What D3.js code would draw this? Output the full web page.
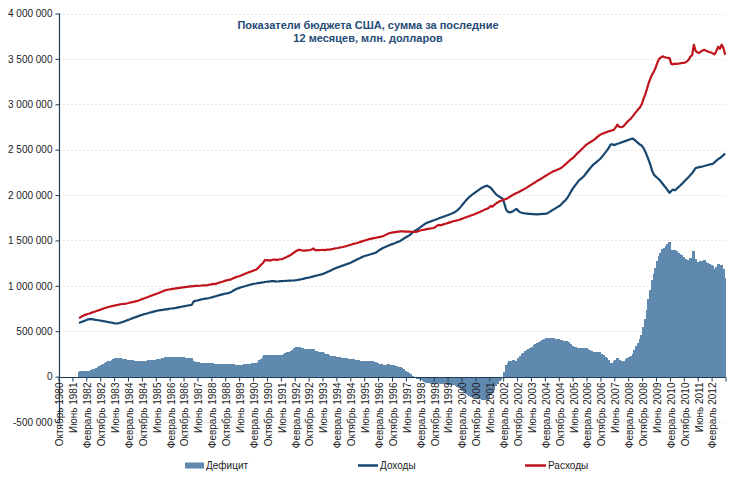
<!DOCTYPE html>
<html><head><meta charset="utf-8">
<script src="https://cdn.jsdelivr.net/npm/d3@7"></script>
<style>body{margin:0;background:#fff}svg{display:block;font-family:Arial,"Liberation Sans",sans-serif}</style>
</head><body><svg id="chart" width="740" height="486"></svg>
<script>
const titleLines = ["Показатели бюджета США, сумма за последние", "12 месяцев, млн. долларов"];
const seriesNames = ["Дефицит", "Доходы", "Расходы"];
const monthNames = ["Январь","Февраль","Март","Апрель","Май","Июнь","Июль","Август","Сентябрь","Октябрь","Ноябрь","Декабрь"];
const axisStart = {year: 1980, month: 10};   // first category on the axis
const axisMonthCount = 384;                  // Oct 1980 .. Sep 2012
const dataStartIndex = 11;                   // data begin in Sep 1981
const tickEvery = 8;
const tickLabels = ["Октябрь 1980","Июнь 1981","Февраль 1982","Октябрь 1982","Июнь 1983","Февраль 1984","Октябрь 1984","Июнь 1985","Февраль 1986","Октябрь 1986","Июнь 1987","Февраль 1988","Октябрь 1988","Июнь 1989","Февраль 1990","Октябрь 1990","Июнь 1991","Февраль 1992","Октябрь 1992","Июнь 1993","Февраль 1994","Октябрь 1994","Июнь 1995","Февраль 1996","Октябрь 1996","Июнь 1997","Февраль 1998","Октябрь 1998","Июнь 1999","Февраль 2000","Октябрь 2000","Июнь 2001","Февраль 2002","Октябрь 2002","Июнь 2003","Февраль 2004","Октябрь 2004","Июнь 2005","Февраль 2006","Октябрь 2006","Июнь 2007","Февраль 2008","Октябрь 2008","Июнь 2009","Февраль 2010","Октябрь 2010","Июнь 2011","Февраль 2012"];
const yTicks = [-500000, 0, 500000, 1000000, 1500000, 2000000, 2500000, 3000000, 3500000, 4000000];

// 12-month sums, million USD, monthly from Sep 1981 to Sep 2012
const deficit = [55000,
57000,62000,64000,63000,62000,61000,69000,79000,88000,98000,107000,117000,
127000,138000,147000,157000,167000,175000,184000,192000,200000,203000,203000,202000,
199000,194000,189000,186000,184000,181000,178000,175000,173000,171000,171000,172000,
173000,175000,177000,180000,181000,183000,185000,187000,189000,191000,197000,203000,
208000,212000,213000,213000,213000,214000,214000,214000,213000,212000,211000,211000,
209000,207000,206000,205000,203000,169000,165000,162000,158000,154000,152000,148000,
146000,146000,146000,145000,145000,137000,137000,137000,138000,139000,140000,142000,
144000,144000,142000,140000,137000,133000,132000,130000,131000,133000,135000,138000,
140000,141000,143000,146000,149000,152000,165000,182000,199000,213000,243000,235000,
236000,229000,234000,238000,238000,236000,241000,242000,243000,250000,257000,266000,
273000,284000,297000,310000,321000,328000,329000,319000,311000,305000,304000,302000,
300000,301000,308000,283000,280000,274000,271000,267000,259000,254000,246000,238000,
232000,227000,222000,218000,214000,211000,208000,204000,202000,200000,199000,198000,
195000,192000,187000,183000,180000,177000,173000,170000,171000,171000,172000,170000,
168000,166000,163000,154000,143000,136000,129000,131000,133000,134000,133000,129000,
125000,121000,116000,111000,105000,92000,79000,66000,54000,44000,26000,11000,
-5000,-19000,-25000,-29000,-40000,-49000,-60000,-68000,-71000,-75000,-79000,-83000,
-82000,-74000,-70000,-83000,-84000,-85000,-86000,-87000,-88000,-89000,-91000,-94000,
-102000,-112000,-125000,-140000,-156000,-173000,-189000,-202000,-212000,-221000,-228000,-235000,
-241000,-247000,-252000,-255000,-256000,-256000,-254000,-232000,-200000,-186000,-144000,-105000,
-77000,-53000,-32000,-13000,51000,123000,153000,172000,177000,182000,176000,176000,
207000,232000,247000,263000,277000,290000,304000,317000,330000,344000,358000,370000,
379000,390000,400000,411000,421000,425000,424000,423000,422000,418000,414000,410000,
407000,400000,395000,396000,390000,377000,360000,341000,330000,325000,320000,313000,
319000,320000,319000,313000,301000,288000,278000,269000,267000,267000,268000,267000,
254000,238000,220000,203000,182000,153000,152000,170000,187000,210000,181000,170000,
168000,177000,192000,207000,218000,232000,251000,295000,334000,373000,413000,455000,
542000,630000,735000,850000,955000,1065000,1135000,1200000,1272000,1328000,1365000,1403000,
1420000,1437000,1462000,1483000,1400000,1380000,1396000,1379000,1362000,1348000,1335000,1316000,
1300000,1290000,1290000,1305000,1300000,1386000,1293000,1267000,1258000,1269000,1277000,1280000,
1265000,1251000,1239000,1230000,1215000,1188000,1210000,1239000,1202000,1234000,1180000,1090000];

const revenue = [591000,
598000,606000,612000,620000,628000,634000,633000,630000,627000,624000,621000,618000,
615000,611000,608000,604000,600000,597000,593000,589000,585000,586000,590000,595000,
601000,608000,615000,622000,629000,637000,644000,651000,658000,665000,672000,679000,
685000,690000,695000,700000,706000,711000,716000,721000,726000,730000,733000,735000,
738000,741000,744000,747000,750000,752000,755000,758000,762000,766000,770000,773000,
777000,781000,785000,788000,792000,828000,834000,838000,843000,848000,852000,856000,
859000,862000,866000,871000,876000,882000,887000,893000,898000,903000,908000,913000,
916000,920000,926000,936000,948000,960000,968000,975000,981000,987000,993000,998000,
1004000,1010000,1015000,1019000,1023000,1026000,1030000,1033000,1036000,1039000,1042000,1045000,
1047000,1049000,1051000,1052000,1050000,1048000,1049000,1051000,1052000,1053000,1055000,1056000,
1057000,1058000,1059000,1060000,1062000,1065000,1069000,1073000,1077000,1082000,1086000,1090000,
1094000,1099000,1104000,1109000,1114000,1119000,1124000,1129000,1135000,1143000,1152000,1161000,
1170000,1179000,1188000,1196000,1203000,1210000,1217000,1224000,1231000,1238000,1245000,1252000,
1261000,1270000,1280000,1289000,1298000,1307000,1317000,1326000,1331000,1337000,1342000,1348000,
1354000,1360000,1367000,1380000,1395000,1406000,1417000,1425000,1433000,1441000,1449000,1457000,
1464000,1471000,1479000,1487000,1495000,1508000,1520000,1532000,1543000,1553000,1570000,1585000,
1600000,1613000,1625000,1637000,1652000,1666000,1680000,1692000,1699000,1706000,1713000,1720000,
1727000,1734000,1742000,1749000,1756000,1763000,1770000,1777000,1784000,1791000,1799000,1808000,
1820000,1835000,1853000,1875000,1898000,1922000,1945000,1965000,1982000,1998000,2012000,2027000,
2041000,2055000,2068000,2080000,2090000,2099000,2104000,2092000,2080000,2058000,2034000,2010000,
1995000,1983000,1970000,1958000,1900000,1835000,1815000,1808000,1815000,1822000,1838000,1847000,
1825000,1810000,1805000,1800000,1797000,1795000,1793000,1792000,1791000,1789000,1787000,1788000,
1789000,1790000,1792000,1793000,1795000,1803000,1815000,1827000,1839000,1850000,1862000,1874000,
1885000,1905000,1925000,1942000,1965000,1995000,2030000,2062000,2090000,2115000,2140000,2165000,
2178000,2196000,2216000,2240000,2265000,2290000,2312000,2333000,2350000,2366000,2381000,2397000,
2418000,2442000,2468000,2492000,2520000,2555000,2560000,2550000,2558000,2565000,2571000,2578000,
2584000,2591000,2598000,2605000,2612000,2618000,2621000,2605000,2588000,2572000,2555000,2545000,
2518000,2480000,2435000,2385000,2330000,2265000,2225000,2205000,2188000,2172000,2150000,2125000,
2100000,2078000,2050000,2025000,2045000,2060000,2052000,2066000,2085000,2102000,2120000,2140000,
2160000,2180000,2200000,2220000,2240000,2270000,2297000,2303000,2307000,2311000,2315000,2320000,
2325000,2331000,2336000,2340000,2345000,2362000,2380000,2395000,2408000,2422000,2440000,2456000];

const spending = [646000,
655000,668000,676000,683000,690000,695000,702000,709000,715000,722000,728000,735000,
742000,749000,755000,761000,767000,772000,777000,781000,785000,789000,793000,797000,
800000,802000,804000,808000,813000,818000,822000,826000,831000,836000,843000,851000,
858000,865000,872000,880000,887000,894000,901000,908000,915000,921000,930000,938000,
946000,953000,957000,960000,963000,966000,969000,972000,975000,978000,981000,984000,
986000,988000,991000,993000,995000,997000,999000,1000000,1001000,1002000,1004000,1004000,
1005000,1008000,1012000,1016000,1021000,1019000,1024000,1030000,1036000,1042000,1048000,1055000,
1060000,1064000,1068000,1076000,1085000,1093000,1100000,1105000,1112000,1120000,1128000,1136000,
1144000,1151000,1158000,1165000,1172000,1178000,1195000,1215000,1235000,1252000,1285000,1280000,
1283000,1278000,1285000,1290000,1288000,1284000,1290000,1293000,1295000,1303000,1312000,1322000,
1330000,1342000,1356000,1370000,1383000,1393000,1398000,1392000,1388000,1387000,1390000,1392000,
1394000,1400000,1412000,1392000,1394000,1393000,1395000,1396000,1394000,1397000,1398000,1399000,
1402000,1406000,1410000,1414000,1417000,1421000,1425000,1428000,1433000,1438000,1444000,1450000,
1456000,1462000,1467000,1472000,1478000,1484000,1490000,1496000,1502000,1508000,1514000,1518000,
1522000,1526000,1530000,1534000,1538000,1542000,1546000,1556000,1566000,1575000,1582000,1586000,
1589000,1592000,1595000,1598000,1600000,1600000,1599000,1598000,1597000,1597000,1596000,1596000,
1595000,1594000,1600000,1608000,1612000,1617000,1620000,1624000,1628000,1631000,1634000,1637000,
1645000,1660000,1672000,1666000,1672000,1678000,1684000,1690000,1696000,1702000,1708000,1714000,
1718000,1723000,1728000,1735000,1742000,1749000,1756000,1763000,1770000,1777000,1784000,1792000,
1800000,1808000,1816000,1825000,1834000,1843000,1850000,1860000,1880000,1872000,1890000,1905000,
1918000,1930000,1938000,1945000,1951000,1958000,1968000,1980000,1992000,2004000,2014000,2023000,
2032000,2042000,2052000,2063000,2074000,2085000,2097000,2109000,2121000,2133000,2145000,2158000,
2168000,2180000,2192000,2204000,2216000,2228000,2239000,2250000,2261000,2268000,2276000,2284000,
2292000,2305000,2320000,2338000,2355000,2372000,2390000,2403000,2420000,2440000,2460000,2478000,
2497000,2516000,2535000,2553000,2566000,2578000,2590000,2602000,2617000,2633000,2649000,2664000,
2672000,2680000,2688000,2695000,2702000,2708000,2712000,2720000,2745000,2775000,2752000,2748000,
2752000,2768000,2790000,2812000,2830000,2850000,2872000,2900000,2922000,2945000,2968000,3000000,
3060000,3110000,3170000,3235000,3285000,3330000,3360000,3405000,3460000,3500000,3515000,3528000,
3520000,3515000,3512000,3508000,3445000,3440000,3448000,3445000,3447000,3450000,3455000,3456000,
3460000,3470000,3490000,3525000,3540000,3656000,3590000,3570000,3565000,3580000,3592000,3600000,
3590000,3582000,3575000,3570000,3560000,3550000,3590000,3634000,3610000,3656000,3620000,3546000];

const colors = {deficit: "#6089b0", revenue: "#17466f", spending: "#c0131c", title: "#1f4b75", axis: "#1f3d55", text: "#222", grid: "#e4e4e4"};

// category axis: one band per month
const months = [];
for (let k = 0; k < axisMonthCount; k++) {
  const m = (axisStart.month - 1 + k) % 12;
  const y = axisStart.year + Math.floor((axisStart.month - 1 + k) / 12);
  months.push(monthNames[m] + " " + y);
}

const svg = d3.select("#chart");
const plot = {left: 59, right: 726, top: 13.5, bottom: 422};
const x = d3.scaleBand().domain(months).range([plot.left, plot.right]).padding(0);
const bw = x.bandwidth();
const y = d3.scaleLinear().domain([yTicks[0], yTicks[yTicks.length - 1]]).range([plot.bottom, plot.top]);
const fmt = d3.formatLocale({decimal: ",", thousands: " ", grouping: [3], currency: ["", ""], minus: "-"}).format(",d");

// gridlines
svg.append("g").selectAll("line").data(yTicks.filter(t => t !== 0)).join("line")
  .attr("x1", plot.left).attr("x2", plot.right)
  .attr("y1", d => Math.round(y(d)) + 0.5).attr("y2", d => Math.round(y(d)) + 0.5)
  .attr("stroke", colors.grid).attr("stroke-dasharray", "2,2").attr("stroke-width", 1);

// title
svg.append("text").attr("x", 368).attr("y", 29).attr("text-anchor", "middle")
  .attr("font-size", 11).attr("font-weight", "bold").attr("fill", colors.title)
  .selectAll("tspan").data(titleLines).join("tspan")
  .attr("x", 368).attr("dy", (d, i) => i === 0 ? 0 : 13).text(d => d);

// deficit bars (solid, no seams)
const dataMonths = months.slice(dataStartIndex, dataStartIndex + deficit.length);
svg.append("g").attr("shape-rendering", "crispEdges").selectAll("rect").data(deficit).join("rect")
  .attr("x", (d, i) => Math.floor(x(dataMonths[i])))
  .attr("width", (d, i) => Math.ceil(x(dataMonths[i]) + bw) - Math.floor(x(dataMonths[i])))
  .attr("y", d => y(Math.max(0, d)))
  .attr("height", d => Math.abs(y(d) - y(0)))
  .attr("fill", colors.deficit);

// lines
const line = d3.line().x((d, i) => x(dataMonths[i]) + bw / 2).y(d => y(d));
svg.append("path").datum(revenue).attr("d", line).attr("fill", "none")
  .attr("stroke", colors.revenue).attr("stroke-width", 2.2).attr("stroke-linejoin", "round");
svg.append("path").datum(spending).attr("d", line).attr("fill", "none")
  .attr("stroke", colors.spending).attr("stroke-width", 2.2).attr("stroke-linejoin", "round");

// y axis
const yAxis = d3.axisLeft(y).tickValues(yTicks).tickFormat(fmt).tickSize(4).tickPadding(3);
const gy = svg.append("g").attr("transform", `translate(${plot.left + 0.5},0)`).call(yAxis);
gy.select(".domain").attr("stroke", colors.axis).attr("stroke-width", 1.2)
  .attr("d", `M0,${plot.top}V${plot.bottom}`);
gy.selectAll(".tick line").attr("stroke", colors.axis);
gy.selectAll(".tick text").attr("font-size", 10).attr("fill", colors.text).attr("font-family", null);

// x axis at zero
const y0 = Math.round(y(0)) + 0.5;
const gx = svg.append("g");
gx.append("line").attr("x1", plot.left).attr("x2", plot.right).attr("y1", y0).attr("y2", y0)
  .attr("stroke", colors.axis).attr("stroke-width", 1.2);
const tickIdx = d3.range(0, axisMonthCount + 1, tickEvery);
gx.selectAll("line.t").data(tickIdx).join("line").attr("class", "t")
  .attr("x1", i => i < axisMonthCount ? x(months[i]) : plot.right)
  .attr("x2", i => i < axisMonthCount ? x(months[i]) : plot.right)
  .attr("y1", y0).attr("y2", y0 + 4).attr("stroke", colors.axis);
gx.selectAll("text").data(tickLabels).join("text")
  .attr("transform", (d, j) => `translate(${x(months[j * tickEvery]) + bw / 2},${y0 + 5}) rotate(-90)`)
  .attr("text-anchor", "end").attr("dy", "0.35em")
  .attr("font-size", 10).attr("fill", colors.text).text(d => d);

// legend
const lg = svg.append("g").attr("font-size", 10).attr("fill", colors.text);
lg.append("rect").attr("x", 185).attr("y", 462.5).attr("width", 19).attr("height", 6).attr("fill", colors.deficit);
lg.append("text").attr("x", 206).attr("y", 469).text(seriesNames[0]);
lg.append("line").attr("x1", 358).attr("x2", 378).attr("y1", 465.5).attr("y2", 465.5).attr("stroke", colors.revenue).attr("stroke-width", 2.5);
lg.append("text").attr("x", 380).attr("y", 469).text(seriesNames[1]);
lg.append("line").attr("x1", 525).attr("x2", 546).attr("y1", 465.5).attr("y2", 465.5).attr("stroke", colors.spending).attr("stroke-width", 2.5);
lg.append("text").attr("x", 548).attr("y", 469).text(seriesNames[2]);
</script></body></html>
